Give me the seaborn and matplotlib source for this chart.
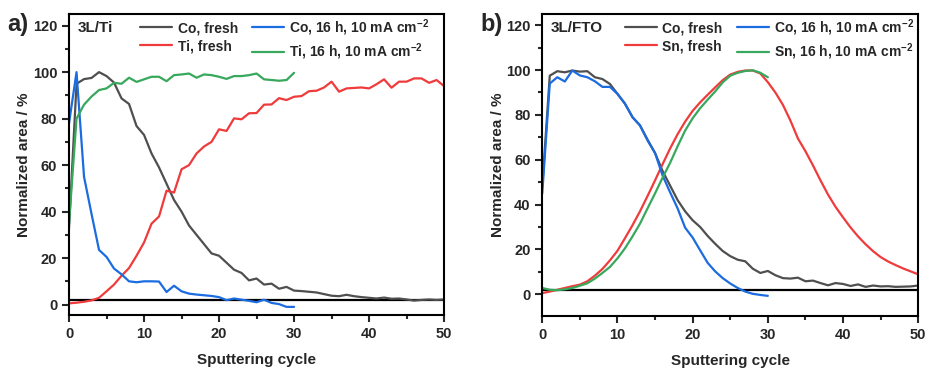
import numpy as np
import pandas as pd
import seaborn as sns
import matplotlib.pyplot as plt
from matplotlib.ticker import MultipleLocator

# ---- data ----
x_full = list(range(51))
x_half = list(range(31))

# panel a) 3L/Ti
ti_co_fresh = [33, 95, 97, 97.5, 100, 98.3, 95.5, 88.7, 86.3, 76.8, 73, 65, 59, 52, 45, 40, 34, 30,
               26, 22, 21, 18, 15, 13.6, 10.4, 11.2, 8.6, 9, 6.8, 7.6, 6, 5.8, 5.5, 5.2, 4.5, 3.8,
               3.6, 4.2, 3.6, 3.2, 2.9, 2.6, 3, 2.5, 2.6, 2.2, 1.7, 2, 2.2, 2, 2.2]
ti_co_16h = [78, 100, 55, 39, 23.5, 20.5, 15.5, 13, 10, 9.6, 10, 10, 9.9, 5.4, 8.1, 5.7, 4.7, 4.3,
             4, 3.7, 3.2, 1.9, 2.6, 2.1, 1.6, 1, 2.1, 0.7, 0.2, -1, -1]
ti_ti_fresh = [0.5, 0.8, 1.2, 1.8, 2.9, 5.7, 8.6, 12.4, 15.7, 21, 26.7, 34.8, 37.9, 49, 48.2, 58.2,
               60, 65, 68, 70, 75.4, 74.7, 80.1, 79.7, 82.3, 82.4, 86, 86.1, 88.8, 88, 89.4, 89.7,
               91.8, 92, 93.4, 95.9, 91.6, 93, 93.2, 93.4, 93, 94.8, 96.9, 93.3, 95.9, 95.9, 97.3,
               97.3, 95.4, 96.6, 94]
ti_ti_16h = [35, 80, 86, 89.5, 92.3, 93, 95.4, 95, 97.6, 95.8, 96.9, 98, 98, 96.1, 98.7, 99, 99.4,
             97.6, 99, 98.7, 98, 97.1, 98.3, 98.3, 98.7, 99.4, 96.9, 96.6, 96.3, 96.6, 99.7]

# panel b) 3L/FTO
fto_co_fresh = [48, 97.5, 99.5, 99, 99.8, 99.3, 99.5, 96.8, 96, 93.8, 89.4, 85, 79, 75.3, 69, 63,
                55, 48.5, 42, 37, 33, 30, 26, 22.5, 19.3, 17, 15.4, 14.7, 11.4, 9.5, 10.4, 8.5,
                7.2, 7, 7.4, 5.8, 6.1, 5, 4, 5, 4.6, 3.7, 4.4, 3.3, 3.9, 3.5, 3.6, 3.3, 3.4, 3.5,
                3.9]
fto_co_16h = [45, 94, 96.8, 94.9, 99.8, 97.6, 96.8, 95, 92.5, 92.5, 89.4, 85, 79, 75.3, 68.6, 63,
              53, 45.5, 38.3, 29.7, 25.3, 19.6, 14, 10.2, 7.2, 4.8, 2.8, 1.2, 0.2, -0.3, -0.7]
fto_sn_fresh = [0.5, 1.2, 2, 2.8, 3.6, 4.3, 5.8, 8.3, 11.3, 15.1, 19.4, 25, 30.8, 37, 43.8, 50.8,
                58, 65, 71.4, 77, 81.8, 85.6, 89, 92.3, 95.5, 98, 99.2, 99.8, 99.8, 98.5, 94.6,
                90, 84.5, 77.5, 69.5, 63.8, 57.5, 50.8, 44.5, 39, 34.3, 29.8, 25.8, 22.3, 19.2,
                16.6, 14.6, 13, 11.5, 10.2, 8.9]
fto_sn_16h = [2.8, 2, 1.8, 2.2, 2.8, 3.8, 4.9, 7, 9.5, 12.2, 16, 20.5, 25.8, 31.5, 38.3, 45, 52,
              58.6, 66, 73, 78.5, 83, 86.8, 90.5, 94.5, 97.5, 98.8, 99.6, 99.9, 98.8, 96.8]

baseline = 2

c_gray = "#4f4f4f"
c_blue = "#1b6ce0"
c_red = "#ef3b3b"
c_green = "#37a85c"

sns.set_style("ticks")
plt.rcParams['font.family'] = ['Liberation Sans', 'DejaVu Sans']
plt.rcParams['font.weight'] = 'bold'
plt.rcParams['axes.labelweight'] = 'bold'
plt.rcParams['mathtext.fontset'] = 'custom'
plt.rcParams['mathtext.rm'] = 'Liberation Sans:bold'
plt.rcParams['mathtext.it'] = 'Liberation Sans:bold'
plt.rcParams['mathtext.bf'] = 'Liberation Sans:bold'

fig = plt.figure(figsize=(9.29, 3.70), dpi=100)
ax1 = fig.add_axes([0.0743, 0.1486, 0.4037, 0.8135])
ax2 = fig.add_axes([0.5837, 0.1459, 0.4047, 0.8162])

unit = " 16 h, 10 mA cm$^{-2}$"


def draw(ax, name, elem, co_fresh, co_16h, el_fresh, el_16h, ylim, leg_x):
    sns.lineplot(x=x_full, y=co_fresh, ax=ax, color=c_gray, lw=1.6, label="Co, fresh")
    sns.lineplot(x=x_full, y=el_fresh, ax=ax, color=c_red, lw=1.6, label=elem + ", fresh")
    sns.lineplot(x=x_half, y=co_16h, ax=ax, color=c_blue, lw=1.6, label="Co," + unit)
    sns.lineplot(x=x_half, y=el_16h, ax=ax, color=c_green, lw=1.6, label=elem + "," + unit)
    ax.axhline(baseline, color="black", lw=1.6, zorder=1)

    ax.set_xlim(0, 50)
    ax.set_ylim(*ylim)
    ax.xaxis.set_major_locator(MultipleLocator(10))
    ax.xaxis.set_minor_locator(MultipleLocator(5))
    ax.yaxis.set_major_locator(MultipleLocator(20))
    ax.yaxis.set_minor_locator(MultipleLocator(10))
    ax.set_yticks([0, 20, 40, 60, 80, 100, 120])
    ax.tick_params(which='major', direction='out', length=5, width=1.5, labelsize=10.5)
    ax.tick_params(which='minor', direction='out', length=3, width=1.5)
    for s in ax.spines.values():
        s.set_visible(True)
        s.set_linewidth(1.5)
        s.set_color("black")
    ax.set_xlabel("Sputtering cycle", fontsize=11, labelpad=9)
    ax.set_ylabel("Normalized area / %", fontsize=11, labelpad=1)
    ax.text(0.022, 0.955, name, transform=ax.transAxes, fontsize=11, va='center', ha='left')
    ax.legend(loc='upper left', bbox_to_anchor=(leg_x, 0.99), ncol=2, frameon=False,
              fontsize=10, handlelength=2.3, handletextpad=0.4, columnspacing=1.0,
              labelspacing=0.3, borderpad=0, borderaxespad=0)


draw(ax1, "3L/Ti", "Ti", ti_co_fresh, ti_co_16h, ti_ti_fresh, ti_ti_16h, (-4.5, 125), 0.19)
draw(ax2, "3L/FTO", "Sn", fto_co_fresh, fto_co_16h, fto_sn_fresh, fto_sn_16h, (-9.7, 125), 0.22)

fig.text(0.008, 0.935, "a)", fontsize=17, va='center', ha='left')
fig.text(0.517, 0.935, "b)", fontsize=17, va='center', ha='left')

fig.savefig("out.png", dpi=100)
